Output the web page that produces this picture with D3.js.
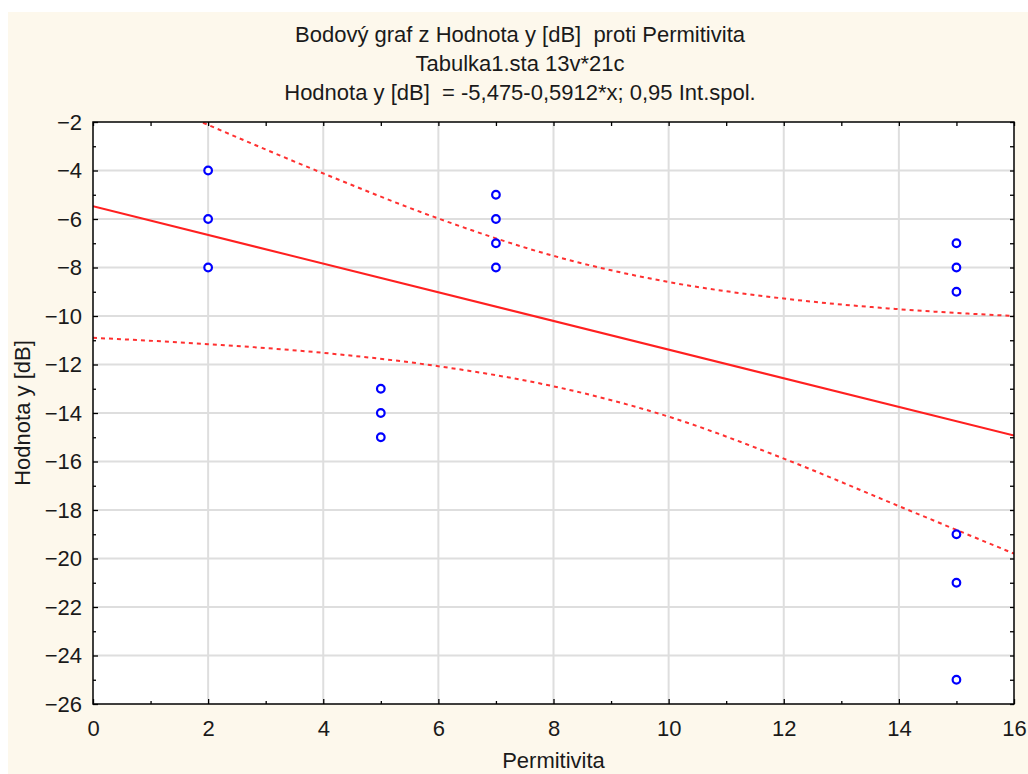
<!DOCTYPE html>
<html>
<head>
<meta charset="utf-8">
<script src="https://cdn.jsdelivr.net/npm/d3@7"></script>
<style>
  body { margin: 0; background: #ffffff; }
  svg text { font-family: "Liberation Sans", Arial, sans-serif; fill: #1a1a1a; white-space: pre; }
</style>
</head>
<body>
<div id="chart"></div>
<script>
// scatter points (Permitivita, Hodnota y [dB])
const permitivita = [2, 2, 2, 5, 5, 5, 7, 7, 7, 7, 15, 15, 15, 15, 15, 15];
const hodnota = [-4, -6, -8, -13, -14, -15, -5, -6, -7, -8, -7, -8, -9, -19, -21, -25];

// fitted line from the title
const intercept = -5.475;
const slope = -0.5912;

// 0.95 confidence band
const bandX = [0, 2, 4, 6, 8, 10, 12, 14, 16];
const bandUpper = [-0.05, -2.12, -4.12, -5.98, -7.52, -8.6, -9.28, -9.72, -10.0];
const bandLower = [-10.9, -11.16, -11.52, -12.07, -12.9, -14.15, -15.88, -17.84, -19.8];

const xTicks = [0, 2, 4, 6, 8, 10, 12, 14, 16];
const yTicks = [-2, -4, -6, -8, -10, -12, -14, -16, -18, -20, -22, -24, -26];
const xMinor = [1, 3, 5, 7, 9, 11, 13, 15];
const yMinor = [-3, -5, -7, -9, -11, -13, -15, -17, -19, -21, -23, -25];

const titleLines = [
  "Bodový graf z Hodnota y [dB]  proti Permitivita",
  "Tabulka1.sta 13v*21c",
  "Hodnota y [dB]  = -5,475-0,5912*x; 0,95 Int.spol."
];

const width = 1028, height = 774;
const margin = { left: 93, right: 14, top: 122, bottom: 70 };
const fontSize = 22;

const svg = d3.select("#chart").append("svg")
  .attr("width", width)
  .attr("height", height);

svg.append("rect")
  .attr("x", 8).attr("y", 12)
  .attr("width", width - 8).attr("height", height - 12)
  .attr("fill", "#fdf8ec");

const x = d3.scaleLinear().domain([0, 16]).range([margin.left, width - margin.right]);
const y = d3.scaleLinear().domain([-26, -2]).range([height - margin.bottom, margin.top]);

svg.append("rect")
  .attr("x", x(0)).attr("y", y(-2))
  .attr("width", x(16) - x(0)).attr("height", y(-26) - y(-2))
  .attr("fill", "#ffffff");

// grid
svg.append("g").selectAll("line")
  .data(xTicks.slice(1, -1))
  .join("line")
  .attr("x1", d => x(d)).attr("x2", d => x(d))
  .attr("y1", y(-2)).attr("y2", y(-26))
  .attr("stroke", "#dedede").attr("stroke-width", 2);

svg.append("g").selectAll("line")
  .data(yTicks.slice(1, -1))
  .join("line")
  .attr("x1", x(0)).attr("x2", x(16))
  .attr("y1", d => y(d)).attr("y2", d => y(d))
  .attr("stroke", "#dedede").attr("stroke-width", 2);

svg.append("clipPath").attr("id", "plot-clip")
  .append("rect")
  .attr("x", x(0)).attr("y", y(-2))
  .attr("width", x(16) - x(0)).attr("height", y(-26) - y(-2));

const plot = svg.append("g").attr("clip-path", "url(#plot-clip)");

// confidence bands
const band = vals => d3.line()
  .x((d, i) => x(bandX[i]))
  .y(d => y(d))
  .curve(d3.curveMonotoneX)(vals);

[bandUpper, bandLower].forEach(vals => {
  plot.append("path")
    .attr("d", band(vals))
    .attr("fill", "none")
    .attr("stroke", "#ff3030")
    .attr("stroke-width", 2)
    .attr("stroke-dasharray", "4,4");
});

// regression line
const fitX = [0, 16];
plot.append("path")
  .attr("d", d3.line().x(d => x(d)).y(d => y(intercept + slope * d))(fitX))
  .attr("fill", "none")
  .attr("stroke", "#ff2020")
  .attr("stroke-width", 2);

// points
svg.append("g").selectAll("circle")
  .data(permitivita.map((d, i) => [d, hodnota[i]]))
  .join("circle")
  .attr("cx", d => x(d[0]))
  .attr("cy", d => y(d[1]))
  .attr("r", 3.8)
  .attr("fill", "#ffffff")
  .attr("stroke", "#0000ff")
  .attr("stroke-width", 2.2);

// frame
svg.append("rect")
  .attr("x", x(0)).attr("y", y(-2))
  .attr("width", x(16) - x(0)).attr("height", y(-26) - y(-2))
  .attr("fill", "none")
  .attr("stroke", "#000")
  .attr("stroke-width", 1.5);

// axes: inward ticks on all four sides
function styleAxis(g) {
  g.select(".domain").remove();
  g.selectAll(".tick line").attr("stroke", "#000").attr("stroke-width", 1.3);
  g.selectAll(".tick text").attr("font-size", fontSize).attr("fill", "#1a1a1a");
}

svg.append("g")
  .attr("transform", `translate(${x(0)},0)`)
  .call(d3.axisLeft(y).tickValues(yTicks).tickSize(-5).tickPadding(11).tickFormat(d3.format("d")))
  .call(styleAxis);
svg.append("g")
  .attr("transform", `translate(${x(0)},0)`)
  .call(d3.axisLeft(y).tickValues(yMinor).tickSize(-3).tickFormat(""))
  .call(styleAxis);
svg.append("g")
  .attr("transform", `translate(${x(16)},0)`)
  .call(d3.axisRight(y).tickValues(yTicks.concat(yMinor)).tickSize(-4).tickFormat(""))
  .call(styleAxis);

svg.append("g")
  .attr("transform", `translate(0,${y(-26)})`)
  .call(d3.axisBottom(x).tickValues(xTicks).tickSize(-5).tickPadding(16).tickFormat(d3.format("d")))
  .call(styleAxis);
svg.append("g")
  .attr("transform", `translate(0,${y(-26)})`)
  .call(d3.axisBottom(x).tickValues(xMinor).tickSize(-3).tickFormat(""))
  .call(styleAxis);
svg.append("g")
  .attr("transform", `translate(0,${y(-2)})`)
  .call(d3.axisTop(x).tickValues(xTicks.concat(xMinor)).tickSize(-4).tickFormat(""))
  .call(styleAxis);

// titles
svg.append("g").selectAll("text")
  .data(titleLines)
  .join("text")
  .attr("x", 520)
  .attr("y", (d, i) => 42 + i * 29)
  .attr("text-anchor", "middle")
  .attr("font-size", fontSize)
  .text(d => d);

svg.append("text")
  .attr("x", (x(0) + x(16)) / 2)
  .attr("y", 768)
  .attr("text-anchor", "middle")
  .attr("font-size", fontSize)
  .text("Permitivita");

svg.append("text")
  .attr("transform", `translate(30,${(y(-2) + y(-26)) / 2}) rotate(-90)`)
  .attr("text-anchor", "middle")
  .attr("font-size", fontSize)
  .text("Hodnota y [dB]");
</script>
</body>
</html>
